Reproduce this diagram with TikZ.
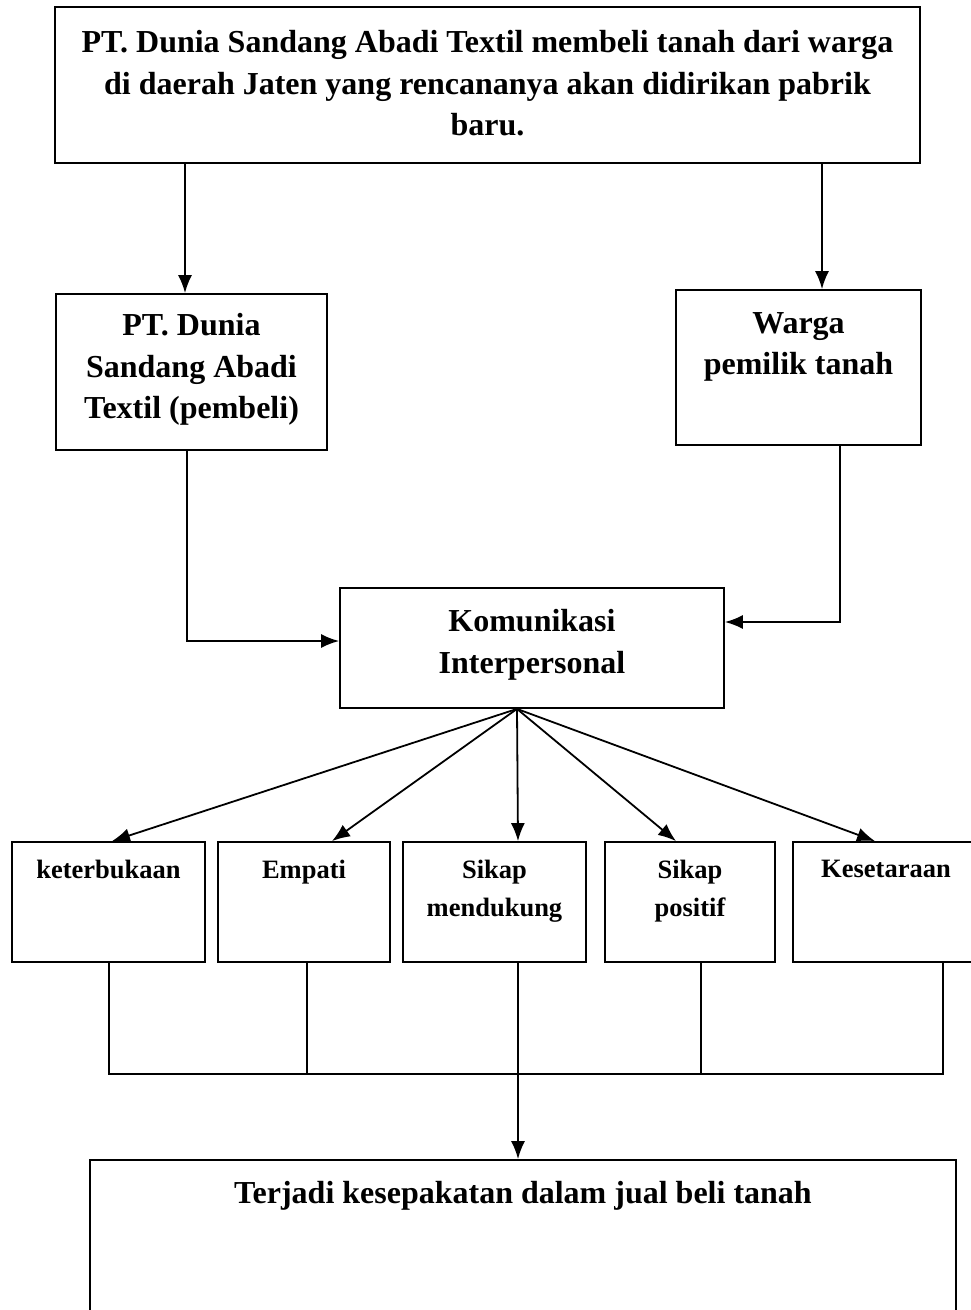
\documentclass[tikz,border=0pt]{standalone}
\usepackage{fontspec}
\setmainfont{Liberation Serif}
\usetikzlibrary{positioning, arrows.meta, calc}

\begin{document}
\begin{tikzpicture}[x=1pt, y=-1pt,
    box/.style={draw, line width=1.8pt, inner sep=0pt},
    big/.style={font=\fontsize{32}{41.5}\selectfont\bfseries, align=center, inner sep=0pt, anchor=north},
    small/.style={font=\fontsize{26.5}{38}\selectfont\bfseries, align=center, inner sep=0pt, anchor=north},
    arr/.style={-{Latex[length=18pt,width=14pt]}, line width=1.8pt},
    bus/.style={line width=1.2pt}]

\useasboundingbox (0,0) rectangle (971,1310);
\clip (0,0) rectangle (971,1310);

% boxes
\node[box, minimum width=865pt, minimum height=156pt] (top) at (487.5,85) {};
\node[box, minimum width=271pt, minimum height=156pt] (pt) at (191.5,372) {};
\node[box, minimum width=245pt, minimum height=155pt] (wg) at (798.5,367.5) {};
\node[box, minimum width=384pt, minimum height=120pt] (kom) at (532,648) {};
\node[box, minimum width=193pt, minimum height=120pt] (ket) at (108.5,902) {};
\node[box, minimum width=172pt, minimum height=120pt] (emp) at (304,902) {};
\node[box, minimum width=183pt, minimum height=120pt] (smd) at (494.5,902) {};
\node[box, minimum width=170pt, minimum height=120pt] (spo) at (690,902) {};
\node[box, minimum width=186pt, minimum height=120pt] (kes) at (886,902) {};
\node[box, minimum width=866pt, minimum height=180pt] (res) at (523,1250) {};

% texts
\node[big] (topt) at ([yshift=-24pt]top.north) {PT. Dunia Sandang Abadi Textil membeli tanah dari warga\\di daerah Jaten yang rencananya akan didirikan pabrik\\baru.};
\node[big] (ptt) at ([yshift=-20pt]pt.north) {PT. Dunia\\Sandang Abadi\\Textil (pembeli)};
\node[big] (wgt) at ([yshift=-23pt]wg.north) {Warga\\pemilik tanah};
\node[big] (komt) at ([yshift=-22pt]kom.north) {Komunikasi\\Interpersonal};
\node[small] (kett) at ([yshift=-19pt]ket.north) {keterbukaan};
\node[small] (empt) at ([yshift=-19pt]emp.north) {Empati};
\node[small] (smdt) at ([yshift=-19pt]smd.north) {Sikap\\mendukung};
\node[small] (spot) at ([yshift=-19pt]spo.north) {Sikap\\positif};
\node[small] (kest) at ([yshift=-19pt]kes.north) {Kesetaraan};
\node[big] (rest) at ([yshift=-22pt]res.north) {Terjadi kesepakatan dalam jual beli tanah};

% connectors
\draw[arr] ([xshift=-6.5pt]pt.north |- top.south) -- ([xshift=-6.5pt]pt.north);
\draw[arr] ([xshift=23.5pt]wg.north |- top.south) -- ([xshift=23.5pt]wg.north);
\draw[arr] ([xshift=-4.5pt]pt.south) |- ([yshift=7pt]kom.west);
\draw[arr] ([xshift=41.5pt]wg.south) |- ([yshift=26pt]kom.east);

\coordinate (fan) at ([xshift=-15pt]kom.south);
\foreach \b/\dx in {ket/3.5, emp/28, smd/23.5, spo/-14, kes/-11}
    \draw[arr] (fan) -- ([xshift=\dx pt]\b.north);

\coordinate (line) at (0,1074);
\draw[bus] ([xshift=0.5pt]ket.south) |- ([xshift=57pt]kes.south |- line) -- ([xshift=57pt]kes.south);
\draw[bus] ([xshift=3pt]emp.south) -- ([xshift=3pt]emp.south |- line);
\draw[bus] ([xshift=11pt]spo.south) -- ([xshift=11pt]spo.south |- line);
\draw[arr] ([xshift=23.5pt]smd.south) -- ([xshift=23.5pt]smd.south |- res.north);

\end{tikzpicture}
\end{document}
